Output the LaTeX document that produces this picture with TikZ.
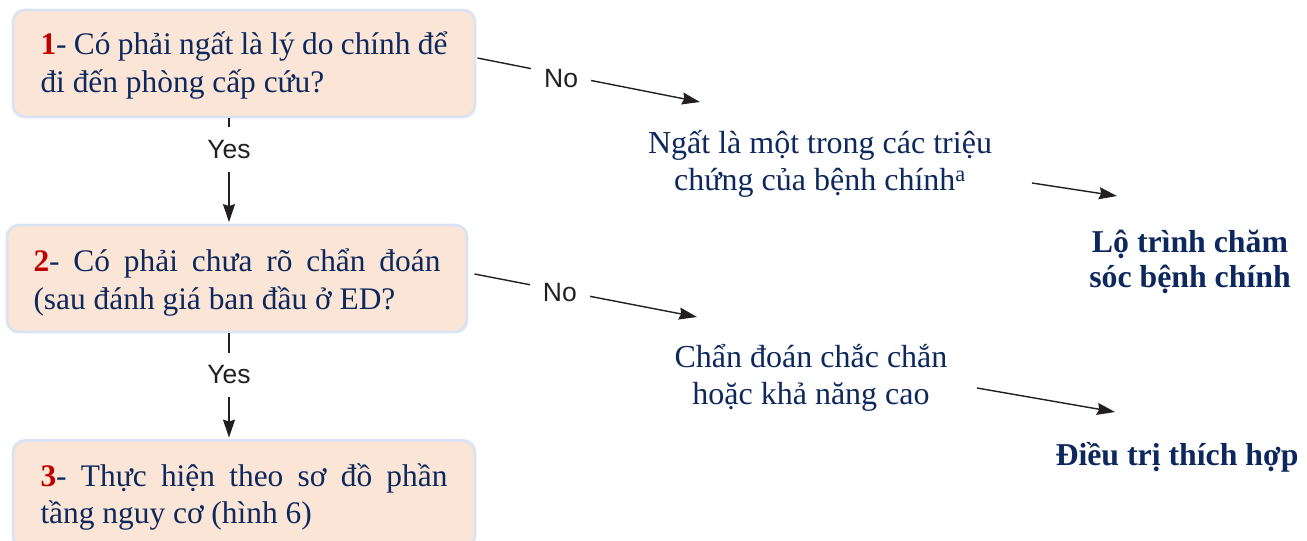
\documentclass[tikz,border=0pt]{standalone}
\usepackage{fontspec}
\setmainfont{Liberation Serif}
\newfontfamily\lblfont{Liberation Sans}
\usetikzlibrary{arrows.meta}
\definecolor{navy}{HTML}{0D285C}
\definecolor{numred}{HTML}{C00000}
\definecolor{boxfill}{HTML}{FBE5D6}
\definecolor{boxline}{HTML}{DAE3F3}
\definecolor{ink}{HTML}{231F20}
\hyphenpenalty=10000
\exhyphenpenalty=10000
\newcommand{\stepnum}[1]{{\bfseries\color{numred}#1}}
\begin{document}
\begin{tikzpicture}[x=1pt,y=-1pt,
  qbox/.style={draw=boxline, line width=2.8pt, fill=boxfill, rounded corners=12pt,
    minimum width=462pt, minimum height=107pt, inner sep=0pt},
  qtext/.style={text width=407pt, align=justify, inner sep=0pt, text=navy,
    font=\fontsize{31.4}{37.5}\selectfont},
  txt/.style={text=navy, align=center, inner sep=0pt, font=\fontsize{32}{37}\selectfont},
  outc/.style={text=navy, align=center, inner sep=0pt, font=\bfseries\fontsize{31.8}{35}\selectfont},
  lbl/.style={text=ink, inner sep=0pt, font=\lblfont\fontsize{26.5}{30}\selectfont},
  yeslbl/.style={lbl, minimum height=44pt},
  nolbl/.style={lbl, fill=white, inner xsep=13pt, inner ysep=6pt},
  conn/.style={draw=ink, line width=1.4pt},
  arr/.style={conn, -{Stealth[length=18pt,width=12pt,inset=2pt]}}
]
\useasboundingbox (0,0) rectangle (1307,541);

% question boxes on the left
\node[qbox] (b1) at (244,63.5) {};
\node[qbox, minimum width=460pt] (b2) at (237,278.5) {};
\node[qbox] (b3) at (244,494) {};
\node[qtext] (q1) at ([yshift=-2pt]b1.center) {\stepnum{1}- Có phải ngất là lý do chính để\linebreak đi đến phòng cấp cứu?};
\node[qtext] (q2) at ([yshift=-4pt]b2.center) {\stepnum{2}- Có phải chưa rõ chẩn đoán\linebreak (sau đánh giá ban đầu ở ED?};
\node[qtext] (q3) at ([yshift=-3pt]b3.center) {\stepnum{3}- Thực hiện theo sơ đồ phần\linebreak tầng nguy cơ (hình 6)};

% middle and outcome texts
\node[txt] (m1) at (820,164) {Ngất là một trong các triệu\\chứng của bệnh chính\textsuperscript{a}};
\node[txt] (m2) at (811,378) {Chẩn đoán chắc chắn\\hoặc khả năng cao};
\node[outc] (o1) at (1190,262) {Lộ trình chăm\\sóc bệnh chính};
\node[outc] (o2) at (1177,457) {Điều trị thích hợp};

% "Yes" branches
\node[yeslbl] (y1) at (229,149.5) {Yes};
\node[yeslbl] (y2) at (229,375) {Yes};
\draw[conn] (b1.south -| y1) -- (y1.north);
\draw[arr, shorten >=1.5pt] (y1.south) -- (b2.north -| y1);
\draw[conn] (b2.south -| y2) -- (y2.north);
\draw[arr, shorten >=1.5pt] (y2.south) -- (b3.north -| y2);

% "No" branches
\coordinate (s1) at ([xshift=1pt,yshift=5.5pt]b1.east);
\coordinate (t1) at (700,102);
\coordinate (s2) at ([xshift=6pt,yshift=4.5pt]b2.east);
\coordinate (t2) at (697,317);
\draw[arr] (s1) -- (t1) node[nolbl, pos=0.376, yshift=-4pt] (n1) {No};
\draw[arr] (s2) -- (t2) node[nolbl, pos=0.384, yshift=-2pt] (n2) {No};

% arrows towards the outcomes
\coordinate (s3) at (1032,183);
\coordinate (t3) at (1117,196);
\coordinate (s4) at (977,388);
\coordinate (t4) at (1115,412);
\draw[arr] (s3) -- (t3);
\draw[arr] (s4) -- (t4);
\end{tikzpicture}
\end{document}
